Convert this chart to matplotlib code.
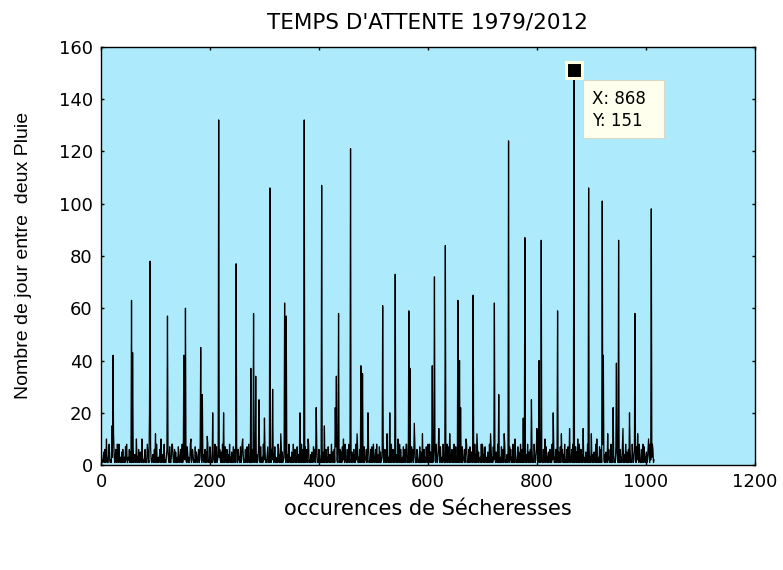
import numpy as np
import matplotlib.pyplot as plt
from matplotlib.patches import Rectangle

plt.rcParams['font.family'] = ['DejaVu Sans']

# low-level waiting times (days), one character per occurrence
baseline = (
    "12135162123114821217312511631241821315162131728113"
    "26151213712412813162152174121361218521317212413615"
    "18213126171241581213615217213184126152131721361281"
    "31621217513128212641217153126128131724126151281217"
    "51216321812712413621518123172161412813152171261281"
    "16231712814121613712812151621731281412615172131821"
    "61214712138162151271312186141271512318126141721315"
    "21812613172141521816213171261381214152172613181216"
    "41217152181261317214128152161371218412615172131821"
    "16128172135126141821713161281521712361418121617215"
    "31261814127151231812614172131521812613172141521816"
    "21317126138121415217261318121641217152181261317214"
    "12815216137121841261517213182116128172135126141821"
    "71316128152171236141812161721531261814127151231812"
    "61417213152181261317214152181621317126138121415217"
    "26131812164121715218126131721412815216137121841261"
    "51721318211612817213512614182171316128152171236141"
    "81216172153126181412715123181261417213152181261317"
    "21415218162131712613812141521726131812164121715218"
    "12613172141281521613712184126151721318211612817213"
    "512614182131612"
)

# spikes: occurrence index and waiting time (days)
peak_x = [10, 20, 22, 23, 30, 56, 58, 65, 75, 89, 90, 100, 110, 122, 130,
          152, 155, 165, 183, 186, 195, 205, 216, 225, 248, 260, 275, 280,
          284, 290, 300, 310, 315, 330, 337, 340, 345, 365, 373, 380, 395,
          405, 410, 430, 432, 436, 445, 458, 470, 477, 480, 490, 500, 517,
          525, 530, 540, 545, 560, 565, 567, 575, 590, 600, 608, 612, 620,
          632, 640, 655, 658, 660, 670, 683, 690, 700, 715, 722, 730, 740,
          748, 760, 775, 778, 790, 800, 804, 808, 815, 830, 838, 845, 860,
          868, 875, 885, 895, 900, 910, 920, 922, 930, 940, 946, 950, 958,
          970, 980, 985, 995, 1005, 1010, 1012]
peak_y = [10, 15, 42, 12, 8, 63, 43, 10, 10, 20, 78, 12, 10, 57, 8,
          42, 60, 10, 45, 27, 11, 20, 132, 20, 77, 10, 37, 58,
          34, 25, 18, 106, 29, 12, 62, 57, 8, 20, 132, 10, 22,
          107, 15, 22, 34, 58, 10, 121, 12, 38, 35, 20, 8, 61,
          12, 20, 73, 10, 8, 59, 37, 16, 12, 8, 38, 72, 14,
          84, 12, 63, 40, 22, 10, 65, 12, 8, 12, 62, 27, 12,
          124, 10, 18, 87, 25, 14, 40, 86, 10, 20, 59, 12, 14,
          151, 10, 14, 106, 12, 10, 101, 42, 12, 22, 39, 86, 14,
          20, 58, 12, 8, 10, 98, 8]

tip_x, tip_y = 868, 151

y = np.array([int(c) for c in baseline], dtype=float)
for px, pv in zip(peak_x, peak_y):
    y[px - 1] = pv
x = np.arange(1, len(y) + 1)

fig = plt.figure(figsize=(7.83, 5.7), dpi=100)
ax = fig.add_axes([0.129, 0.184, 0.835, 0.734])
ax.set_facecolor('#ADEAFC')
ax.plot(x, y, color='black', linewidth=0.9)

ax.set_xlim(0, 1200)
ax.set_ylim(0, 160)
ax.set_xticks(np.arange(0, 1201, 200))
ax.set_yticks(np.arange(0, 161, 20))
ax.tick_params(direction='in', top=True, right=True, labelsize=13,
               length=2.5, width=1.0, pad=6)
for s in ax.spines.values():
    s.set_linewidth(1.0)

ax.set_title("TEMPS D'ATTENTE 1979/2012", fontsize=15.5, pad=13)
ax.set_xlabel("occurences de Sécheresses", fontsize=15)
ax.xaxis.set_label_coords(0.5, -0.08)
ax.set_ylabel("Nombre de jour entre  deux Pluie", fontsize=14,
              family=['Liberation Sans', 'DejaVu Sans'])
ax.yaxis.set_label_coords(-0.106, 0.5)

# data tip
ax.plot([tip_x], [tip_y], marker='s', markersize=12, color='black',
        markeredgecolor='#FFFDE0', markeredgewidth=2.2, zorder=5)
ax.add_patch(Rectangle((884, 125.2), 149, 22.2, facecolor='#FFFFEE',
                       edgecolor='#D8D8C8', linewidth=0.8, zorder=6))
ax.text(901, 140.1, "X: %d" % tip_x, fontsize=12, va='center', ha='left', zorder=7)
ax.text(901, 131.7, "Y: %d" % tip_y, fontsize=12, va='center', ha='left', zorder=7)

fig.savefig("out.png", dpi=100)
